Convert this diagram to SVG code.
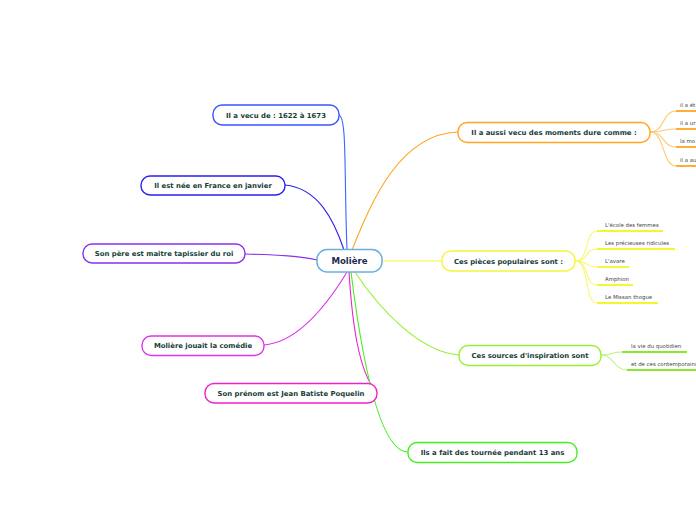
<svg xmlns="http://www.w3.org/2000/svg" width="696" height="520" viewBox="0 0 696 520">
<style>
.n{fill:#fff;stroke-width:1.4}
.t{font-family:"DejaVu Sans",Verdana,sans-serif;font-weight:bold;font-size:6.9px;fill:#163c38;text-anchor:middle}
.l{font-family:"DejaVu Sans",Verdana,sans-serif;font-size:5.4px;fill:#444}
.c{fill:none;stroke-width:1.1}
.u{fill:none;stroke-width:1.8}
</style>
<rect width="696" height="520" fill="#fff"/>
<g id="connectors">
<path class="c" stroke="#3a66ff" d="M347,250 C344,170 347,118 339,115"/>
<path class="c" stroke="#2a1fee" d="M285,185 C318,188 334,220 344,250"/>
<path class="c" stroke="#8a2ff0" d="M245,254 C280,255 300,256 317,260"/>
<path class="c" stroke="#dd33ee" d="M264,345 C300,342 330,300 347,272"/>
<path class="c" stroke="#ee22cc" d="M349,272 C352,320 358,370 376,392"/>
<path class="c" stroke="#44ee22" d="M351,272 C362,360 380,452 408,452"/>
<path class="c" stroke="#ffa41c" d="M352,250 C372,200 400,134 458,132"/>
<path class="c" stroke="#f5f53a" d="M382,261 L442,261"/>
<path class="c" stroke="#99ee33" d="M355,272 C380,310 420,352 459,355"/>
<g stroke="#ffc870" class="c">
<path d="M650,132 C665,132 662,111 676,111"/>
<path d="M650,132 C665,132 662,129 676,129"/>
<path d="M650,132 C665,132 662,147 676,147"/>
<path d="M650,132 C665,132 662,166 676,166"/>
</g>
<g stroke="#ffa41c" class="u">
<path d="M676,111 L696,111"/>
<path d="M676,129 L696,129"/>
<path d="M676,147 L696,147"/>
<path d="M676,166 L696,166"/>
</g>
<g stroke="#f8f870" class="c">
<path d="M575,261 C590,261 584,231 597,231"/>
<path d="M575,261 C590,261 584,249 597,249"/>
<path d="M575,261 C590,261 584,267 597,267"/>
<path d="M575,261 C590,261 584,285 597,285"/>
<path d="M575,261 C590,261 584,303 597,303"/>
</g>
<g stroke="#f5f530" class="u">
<path d="M597,231 L663,231"/>
<path d="M597,249 L675,249"/>
<path d="M597,267 L629,267"/>
<path d="M597,285 L633,285"/>
<path d="M597,303 L658,303"/>
</g>
<g stroke="#bbf080" class="c">
<path d="M601,355 C614,355 610,352 622,352"/>
<path d="M601,355 C614,355 614,370 627,370"/>
</g>
<g stroke="#88e830" class="u">
<path d="M622,352 L687,352"/>
<path d="M627,370 L696,370"/>
</g>
</g>
<g id="center">
<rect x="317" y="249.5" width="65" height="22.5" rx="10" fill="#fff" stroke="#6aaee0" stroke-width="1.5"/>
<text x="349.5" y="264" font-family="DejaVu Sans,Verdana,sans-serif" font-weight="bold" font-size="8.6" fill="#1c2c50" text-anchor="middle">Molière</text>
</g>
<g id="n1"><rect class="n" stroke="#3a55ff" x="213" y="105" width="126" height="20" rx="9"/><text class="t" x="276" y="117.5">Il a vecu de : 1622 à 1673</text></g>
<g id="n2"><rect class="n" stroke="#2a1fee" x="141" y="176" width="144" height="19" rx="9"/><text class="t" x="213" y="188">Il est née en France en janvier</text></g>
<g id="n3"><rect class="n" stroke="#8a2ff0" x="83" y="244" width="162" height="19" rx="9"/><text class="t" x="164" y="256">Son père est maitre tapissier du roi</text></g>
<g id="n4"><rect class="n" stroke="#dd33ee" x="142" y="336" width="122" height="19.5" rx="9"/><text class="t" x="203" y="348">Molière jouait la comédie</text></g>
<g id="n5"><rect class="n" stroke="#ee22cc" x="205" y="383.5" width="172" height="19.5" rx="9"/><text class="t" x="291" y="396">Son prénom est Jean Batiste Poquelin</text></g>
<g id="n6"><rect class="n" stroke="#44ee22" x="408" y="442.5" width="169" height="20" rx="9"/><text class="t" x="492.5" y="455">Ils a fait des tournée pendant 13 ans</text></g>
<g id="n7"><rect class="n" stroke="#ffa41c" x="458" y="122.5" width="192" height="20" rx="9"/><text class="t" x="554" y="135">Il a aussi vecu des moments dure comme :</text>
<text class="l" x="680" y="106.5">il a ét</text><text class="l" x="680" y="125">il a ur</text><text class="l" x="680" y="143">la mo</text><text class="l" x="680" y="161.5">il a au</text></g>
<g id="n8"><rect class="n" stroke="#f5f53a" x="442" y="251" width="133" height="20" rx="9"/><text class="t" x="508.5" y="263.5">Ces pièces populaires sont :</text>
<text class="l" x="605" y="227">L'école des femmes</text><text class="l" x="605" y="245">Les précieuses ridicules</text><text class="l" x="605" y="263">L'avare</text><text class="l" x="605" y="281">Amphion</text><text class="l" x="605" y="299">Le Missan thogue</text></g>
<g id="n9"><rect class="n" stroke="#99ee33" x="459" y="345.5" width="142" height="20" rx="9"/><text class="t" x="530" y="358">Ces sources d'inspiration sont</text>
<text class="l" x="631" y="348">la vie du quotidien</text><text class="l" x="631" y="366">et de ces contemporains</text></g>
</svg>
